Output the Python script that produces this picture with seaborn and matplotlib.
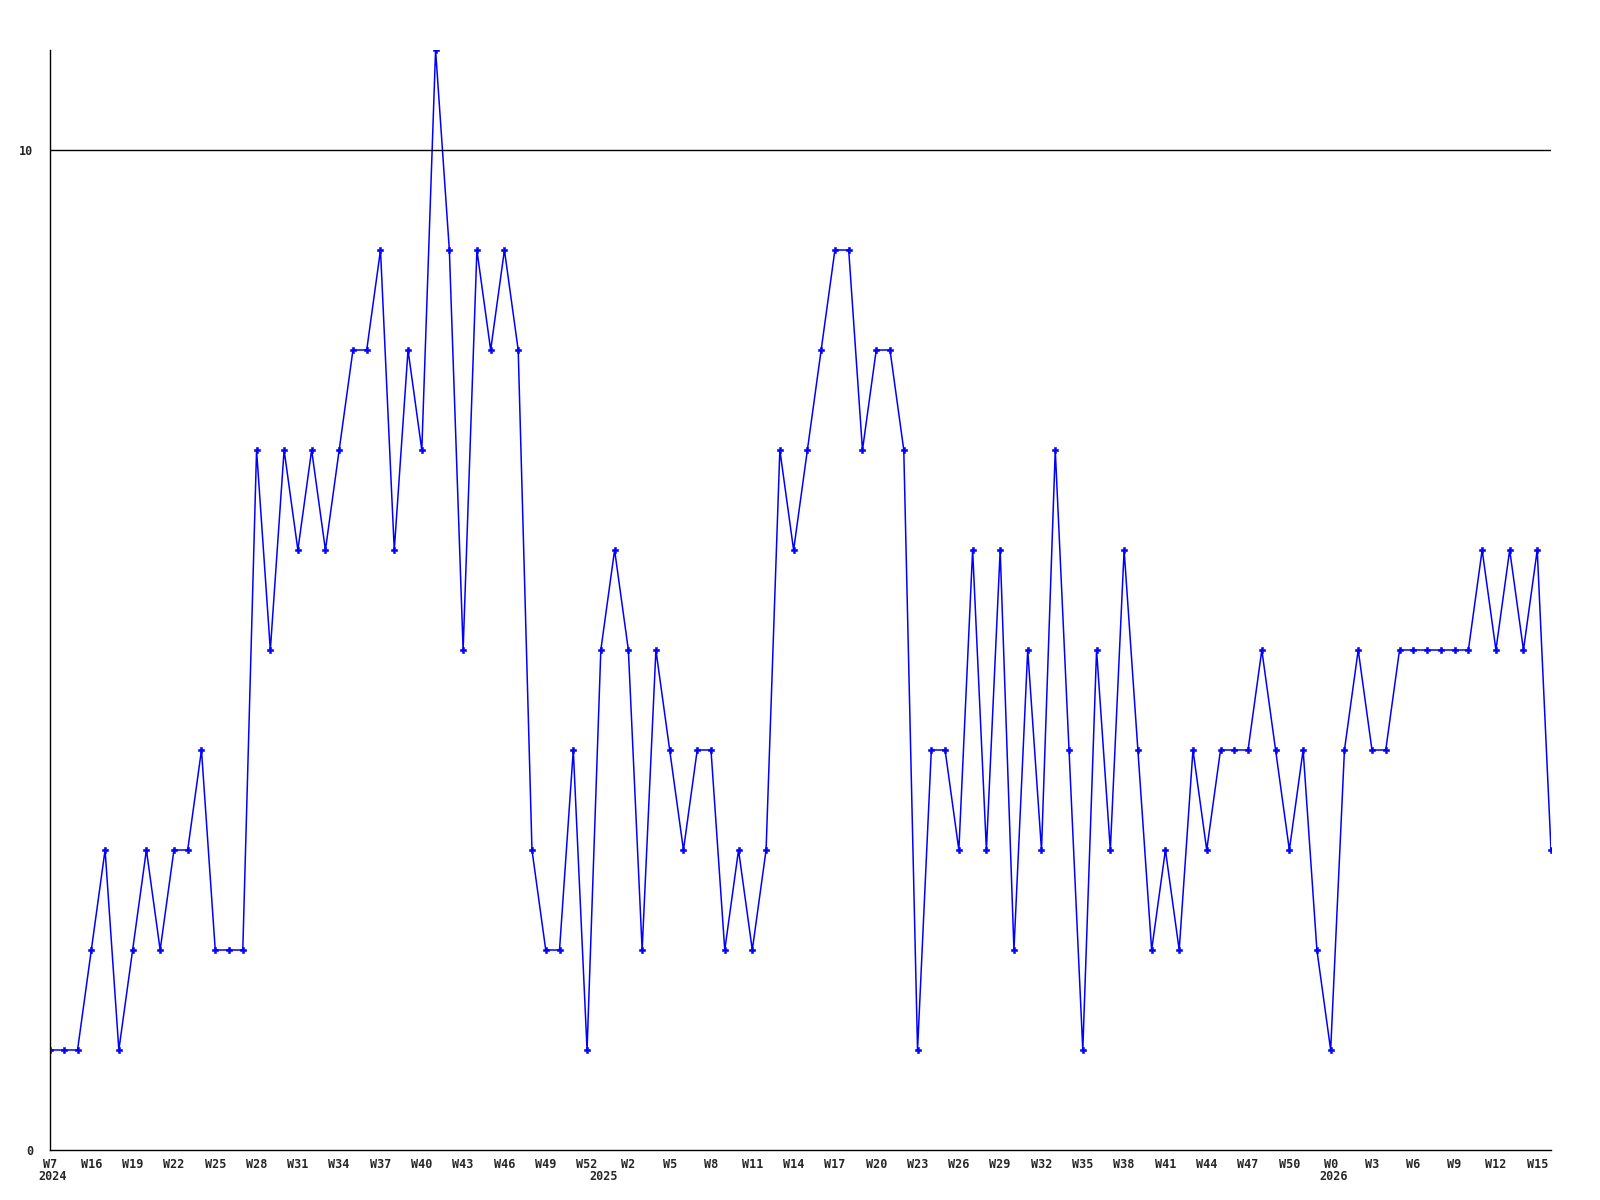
import matplotlib
matplotlib.use("Agg")
import matplotlib.pyplot as plt
import seaborn as sns
import pandas as pd

# weekly counts, one per point
values = [1, 1, 1, 2, 3, 1, 2, 3, 2, 3,
          3, 4, 2, 2, 2, 7, 5, 7, 6, 7,
          6, 7, 8, 8, 9, 6, 8, 7, 11, 9,
          5, 9, 8, 9, 8, 3, 2, 2, 4, 1,
          5, 6, 5, 2, 5, 4, 3, 4, 4, 2,
          3, 2, 3, 7, 6, 7, 8, 9, 9, 7,
          8, 8, 7, 1, 4, 4, 3, 6, 3, 6,
          2, 5, 3, 7, 4, 1, 5, 3, 6, 4,
          2, 3, 2, 4, 3, 4, 4, 4, 5, 4,
          3, 4, 2, 1, 4, 5, 4, 4, 5, 5,
          5, 5, 5, 5, 6, 5, 6, 5, 6, 3]

# labelled weeks (every third point)
week_labels = ["W7", "W16", "W19", "W22", "W25", "W28", "W31", "W34", "W37",
               "W40", "W43", "W46", "W49", "W52", "W2", "W5", "W8", "W11",
               "W14", "W17", "W20", "W23", "W26", "W29", "W32", "W35", "W38",
               "W41", "W44", "W47", "W50", "W0", "W3", "W6", "W9", "W12", "W15"]
years = ["2024", "2025", "2026"]
year_pos = [0, 40, 93]

df = pd.DataFrame({"idx": range(len(values)), "count": values})

sns.set_style("white")
font = ["DejaVu Sans Mono"]
fs = 8.5

fig = plt.figure(figsize=(16, 12), dpi=100)
ax = fig.add_axes([50 / 1600, 50 / 1200, 1501 / 1600, 1100 / 1200])

sns.lineplot(data=df, x="idx", y="count", ax=ax, color="#0000ff",
             linewidth=1.1, marker="P", markersize=5, markeredgewidth=0.4,
             markeredgecolor="#0000ff")

ax.axhline(10, color="black", linewidth=1)
ax.set_xlim(0, len(values) - 1)
ax.set_ylim(0, 11)

ax.set_xticks(range(0, len(values), 3))
ax.set_xticklabels(week_labels, family=font, fontweight="bold", fontsize=fs)
ax.set_yticks([0, 10])
ax.set_yticklabels(["0", "10"], family=font, fontweight="bold", fontsize=fs)
ax.tick_params(length=0)
ax.tick_params(axis="x", pad=6)
ax.tick_params(axis="y", pad=12)
ax.set_xlabel("")
ax.set_ylabel("")

for y, p in zip(years, year_pos):
    ax.text(p + 0.2, -0.2, y, ha="center", va="top", family=font,
            fontweight="bold", fontsize=fs, transform=ax.transData)

for s in ["top", "right"]:
    ax.spines[s].set_visible(False)
for s in ["left", "bottom"]:
    ax.spines[s].set_color("black")
    ax.spines[s].set_linewidth(1)

fig.savefig("out.png", dpi=100)
